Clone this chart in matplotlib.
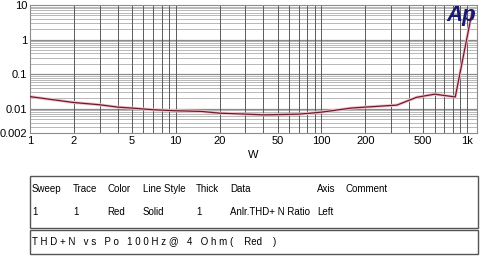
import matplotlib
matplotlib.use("Agg")
import matplotlib.pyplot as plt
from matplotlib.patches import Rectangle
from matplotlib.ticker import FixedLocator, NullFormatter

plt.rcParams['font.family'] = ['Liberation Sans', 'DejaVu Sans']

# =====================================================
# DATA
# =====================================================

power_w = [1, 2, 3, 4, 5, 7, 10, 15, 20, 40, 70, 100, 160, 200, 330, 450, 600, 830, 1080]
thd_pct = [0.0225, 0.0152, 0.0131, 0.0112, 0.0105, 0.0094, 0.0088, 0.0084, 0.0075,
           0.0067, 0.0070, 0.0080, 0.0105, 0.0112, 0.0128, 0.0215, 0.0265, 0.022, 6]

x_ticks = [1, 2, 5, 10, 20, 50, 100, 200, 500, 1000]
x_labels = ["1", "2", "5", "10", "20", "50", "100", "200", "500", "1k"]
y_ticks = [0.002, 0.01, 0.1, 1, 10]
y_labels = ["0.002", "0.01", "0.1", "1", "10"]

headers = ["Sweep", "Trace", "Color", "Line Style", "Thick", "Data", "Axis", "Comment"]
row_vals = ["1", "1", "Red", "Solid", "1", "Anlr.THD+ N Ratio", "Left", ""]
col_x = [32, 73, 107, 143, 196, 230, 317, 345]
title_text = "T H D + N   v s   P o   1 0 0 H z @   4   O h m (    Red    )"

# =====================================================
# FIGURE
# =====================================================

W, H = 482, 257
fig = plt.figure(figsize=(W / 100, H / 100), dpi=100)
ax = fig.add_axes([30 / W, 1 - 133 / H, (477 - 30) / W, (133 - 5) / H])

ax.set_xscale("log")
ax.set_yscale("log")
ax.set_xlim(1, 1170)
ax.set_ylim(0.002, 10)

# grid
minor_x = [m * 10 ** d for d in range(0, 4) for m in range(1, 10)]
minor_y = [m * 10 ** d for d in range(-3, 2) for m in range(1, 10)]
for v in minor_y:
    if 0.002 < v < 10:
        ax.axhline(v, color="#b8b8b8", lw=0.7, zorder=1)
for v in [0.01, 0.1, 1]:
    ax.axhline(v, color="#8c8c8c", lw=0.9, zorder=1)
for v in minor_x:
    if 1 < v < 1170:
        ax.axvline(v, color="#5a5a5a", lw=0.7, zorder=1)

ax.plot(power_w, thd_pct, color="#f1c4cb", lw=2.2, zorder=2, solid_capstyle="round")
ax.plot(power_w, thd_pct, color="#6e1a2c", lw=0.9, zorder=3)

ax.xaxis.set_major_locator(FixedLocator(x_ticks))
ax.set_xticklabels(x_labels)
ax.xaxis.set_minor_formatter(NullFormatter())
ax.yaxis.set_major_locator(FixedLocator(y_ticks))
ax.set_yticklabels(y_labels)
ax.yaxis.set_minor_formatter(NullFormatter())
ax.tick_params(which="both", length=0, labelsize=8, pad=2)
for s in ax.spines.values():
    s.set_color("#8c8c8c")
    s.set_linewidth(0.8)

ax.set_xlabel("W", fontsize=8, labelpad=3)

# Ap logo
fig.text(461 / W, 1 - 16 / H, "Ap", fontsize=16, fontweight="bold", style="italic",
         color="#1a1a6e", ha="center", va="center")

# =====================================================
# LEGEND TABLE
# =====================================================

fig.patches.append(Rectangle((30 / W, 1 - 228 / H), 448 / W, 52 / H,
                             transform=fig.transFigure, fill=False,
                             edgecolor="#555555", lw=1.0))
fig.patches.append(Rectangle((30 / W, 1 - 254 / H), 448 / W, 24 / H,
                             transform=fig.transFigure, fill=False,
                             edgecolor="#555555", lw=1.0))

for x, h, v in zip(col_x, headers, row_vals):
    fig.text(x / W, 1 - 189 / H, h, fontsize=7, va="center", ha="left")
    fig.text(x / W, 1 - 212 / H, v, fontsize=7, va="center", ha="left")

fig.text(32 / W, 1 - 242 / H, title_text, fontsize=7, va="center", ha="left")

fig.savefig("out.png", dpi=100)
